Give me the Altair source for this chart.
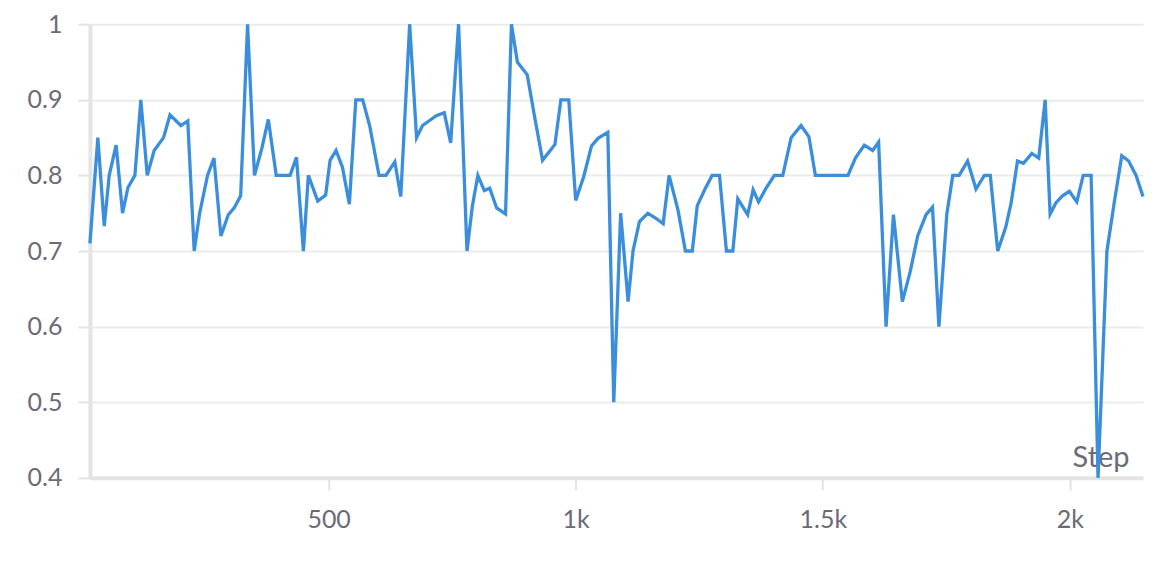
import altair as alt
import pandas as pd

steps = [17, 33, 46, 56, 70, 83, 94, 108, 120, 133, 147, 166, 179, 201, 215, 228, 239, 255, 268, 282,
         297, 309, 322, 336, 350, 365, 378, 394, 408, 422, 435, 449, 459, 478, 494, 503, 515, 528, 542, 555,
         569, 583, 602, 616, 634, 646, 664, 678, 690, 705, 718, 734, 747, 763, 780, 791, 802, 815, 826, 840,
         858, 870, 882, 902, 917, 933, 946, 958, 970, 986, 1000, 1016, 1032, 1045, 1065, 1077, 1091, 1106, 1116, 1129,
         1146, 1163, 1177, 1189, 1207, 1222, 1236, 1246, 1261, 1276, 1291, 1305, 1318, 1328, 1348, 1359, 1370, 1386, 1402, 1419,
         1436, 1456, 1472, 1485, 1501, 1518, 1534, 1551, 1566, 1584, 1601, 1613, 1628, 1643, 1661, 1677, 1692, 1709, 1722, 1735,
         1751, 1763, 1776, 1793, 1810, 1827, 1839, 1854, 1870, 1881, 1894, 1906, 1923, 1937, 1950, 1960, 1972, 1985, 1999, 2014,
         2027, 2043, 2057, 2075, 2090, 2105, 2119, 2134, 2148]

values = [0.71, 0.85, 0.733, 0.80, 0.84, 0.75, 0.784, 0.80, 0.90, 0.80, 0.833, 0.85, 0.88, 0.866, 0.872, 0.70, 0.75, 0.80, 0.823, 0.72,
          0.748, 0.757, 0.773, 1.0, 0.80, 0.836, 0.874, 0.80, 0.80, 0.80, 0.824, 0.70, 0.80, 0.766, 0.774, 0.82, 0.833, 0.811, 0.762, 0.90,
          0.90, 0.866, 0.80, 0.80, 0.818, 0.772, 1.0, 0.85, 0.866, 0.873, 0.879, 0.883, 0.843, 1.0, 0.70, 0.76, 0.80, 0.78, 0.783, 0.757,
          0.749, 1.0, 0.95, 0.933, 0.877, 0.82, 0.831, 0.841, 0.90, 0.90, 0.767, 0.798, 0.839, 0.849, 0.857, 0.50, 0.75, 0.633, 0.70, 0.739,
          0.75, 0.743, 0.736, 0.80, 0.754, 0.70, 0.70, 0.76, 0.781, 0.80, 0.80, 0.70, 0.70, 0.769, 0.748, 0.781, 0.765, 0.784, 0.80, 0.80,
          0.85, 0.866, 0.851, 0.80, 0.80, 0.80, 0.80, 0.80, 0.823, 0.84, 0.833, 0.844, 0.60, 0.748, 0.633, 0.673, 0.72, 0.748, 0.758, 0.60,
          0.749, 0.80, 0.80, 0.819, 0.782, 0.80, 0.80, 0.70, 0.731, 0.763, 0.819, 0.816, 0.829, 0.823, 0.90, 0.749, 0.764, 0.773, 0.779, 0.765,
          0.80, 0.80, 0.40, 0.70, 0.765, 0.826, 0.819, 0.80, 0.772]

x_ticks = [500, 1000, 1500, 2000]
y_ticks = [0.4, 0.5, 0.6, 0.7, 0.8, 0.9, 1.0]

df = pd.DataFrame({"step": steps, "value": values})

FONT = "Lato"
LABEL = "#6b6b76"

chart = alt.Chart(df).mark_line(color="#3a8edb", strokeWidth=3.3).encode(
    x=alt.X("step:Q",
            scale=alt.Scale(domain=[17, 2148], nice=False, zero=False),
            axis=alt.Axis(values=x_ticks, title="Step", grid=False,
                          labelExpr="datum.value >= 1000 ? format(datum.value / 1000, '~g') + 'k' : format(datum.value, 'd')",
                          titleX=1040, titleY=-11, titleAlign="right", titleBaseline="alphabetic",
                          titleFontSize=29, titleFontWeight="normal", titleColor=LABEL, titleFont=FONT,
                          labelFontSize=25, labelColor=LABEL, labelFont=FONT, labelPadding=18,
                          tickSize=12, tickWidth=2, tickColor="#e3e3e3",
                          domainColor="#e4e4e4", domainWidth=4)),
    y=alt.Y("value:Q",
            scale=alt.Scale(domain=[0.4, 1.0], nice=False, zero=False),
            axis=alt.Axis(values=y_ticks, format=".1~f", title=None,
                          grid=True, gridColor="#ebebeb", gridWidth=2,
                          labelFontSize=25, labelColor=LABEL, labelFont=FONT, labelPadding=16,
                          tickSize=12, tickWidth=2, tickColor="#e3e3e3",
                          domainColor="#e4e4e4", domainWidth=4)),
).properties(
    width=1054, height=454,
    autosize=alt.AutoSizeParams(type="none"),
    padding={"left": 82, "top": 16, "right": 12, "bottom": 60},
    background="white",
).configure_view(strokeWidth=0)

chart.save("out.html", embed_options={"renderer": "svg", "actions": False})
